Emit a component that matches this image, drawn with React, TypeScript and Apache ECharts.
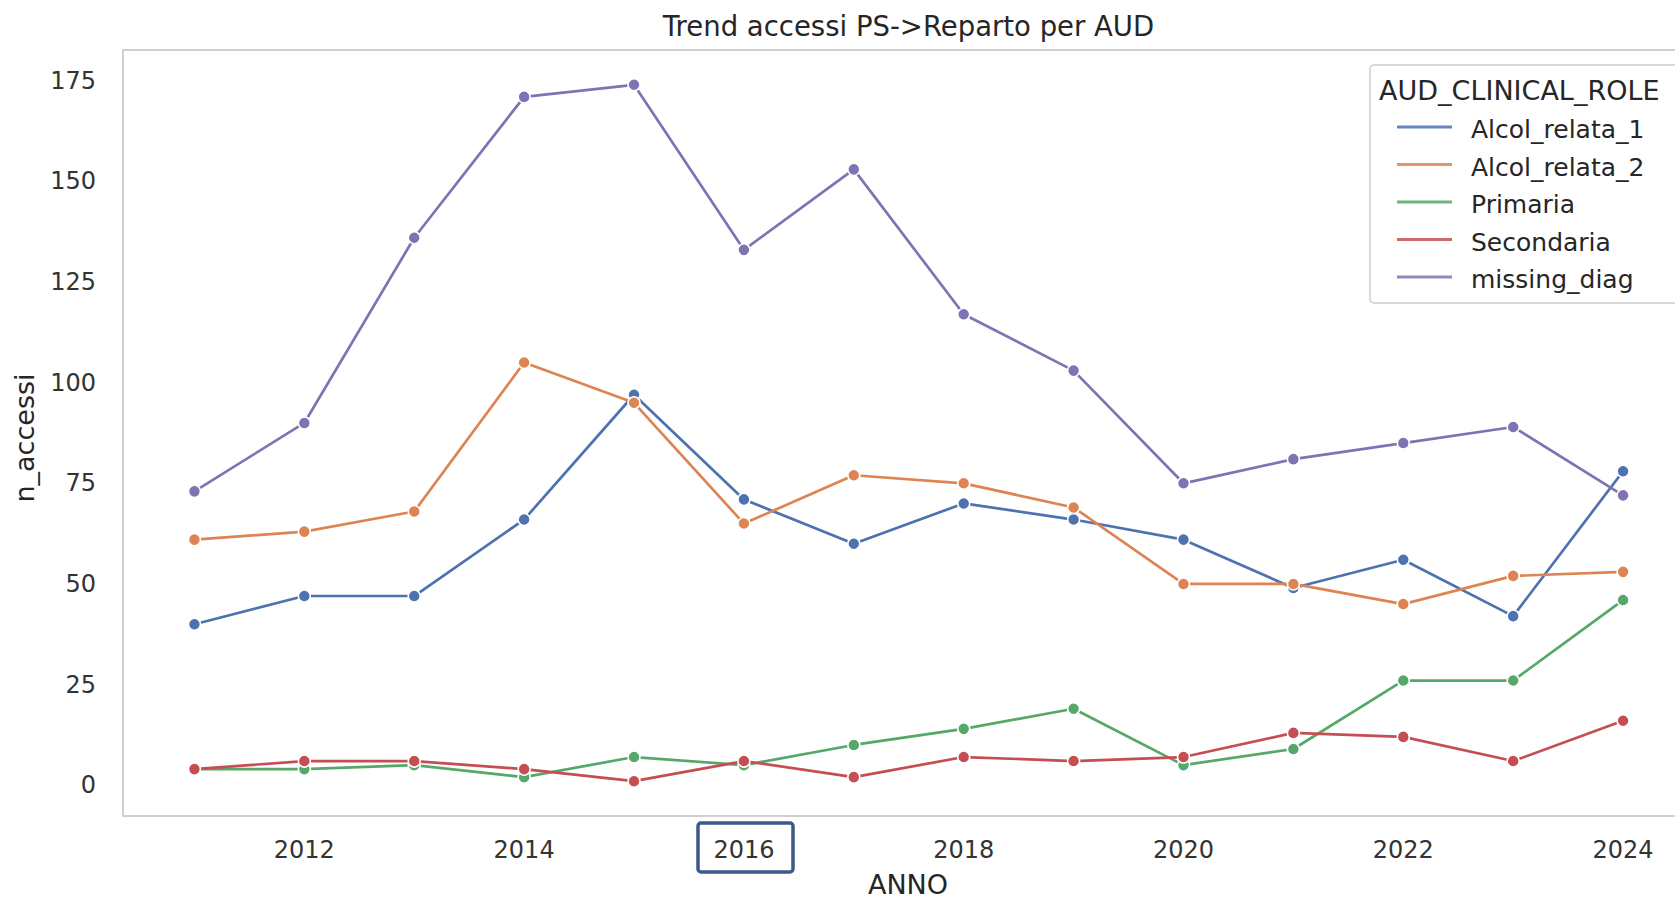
import React, { useEffect, useRef } from "react";
import * as echarts from "echarts";

const years = [2011, 2012, 2013, 2014, 2015, 2016, 2017, 2018, 2019, 2020, 2021, 2022, 2023, 2024];
const seriesNames = ["Alcol_relata_1", "Alcol_relata_2", "Primaria", "Secondaria", "missing_diag"];
const alcolRelata1 = [40, 47, 47, 66, 97, 71, 60, 70, 66, 61, 49, 56, 42, 78];
const alcolRelata2 = [61, 63, 68, 105, 95, 65, 77, 75, 69, 50, 50, 45, 52, 53];
const primaria = [4, 4, 5, 2, 7, 5, 10, 14, 19, 5, 9, 26, 26, 46];
const secondaria = [4, 6, 6, 4, 1, 6, 2, 7, 6, 7, 13, 12, 6, 16];
const missingDiag = [73, 90, 136, 171, 174, 133, 153, 117, 103, 75, 81, 85, 89, 72];
const xTicks = [2012, 2014, 2016, 2018, 2020, 2022, 2024];
const yTicks = [0, 25, 50, 75, 100, 125, 150, 175];
const colors = ["#4C72B0", "#DD8452", "#55A868", "#C44E52", "#8172B3"];
const title = "Trend accessi PS->Reparto per AUD";
const xName = "ANNO";
const yName = "n_accessi";
const legendTitle = "AUD_CLINICAL_ROLE";

const allValues = [alcolRelata1, alcolRelata2, primaria, secondaria, missingDiag];

const FONT = "DejaVu Sans";

export default function App() {
  const ref = useRef<HTMLDivElement>(null);
  useEffect(() => {
    if (!ref.current) return;
    const chart = echarts.init(ref.current, null, { renderer: "svg" });
    const flat = allValues.flat();
    const dMin = Math.min(...flat);
    const dMax = Math.max(...flat);
    const yPad = (dMax - dMin) * 0.05;
    const xPad = (years[years.length - 1] - years[0]) * 0.05;

    const legendX = 1370;
    const legendY = 65;
    const entryStart = 127;
    const entryStep = 37.5;

    const legendGraphics: any[] = [
      {
        type: "rect",
        shape: { x: legendX, y: legendY, width: 360, height: 238, r: 4 },
        style: { fill: "rgba(255,255,255,0.85)", stroke: "#cccccc", lineWidth: 1.5 },
        z: 100,
      },
      {
        type: "text",
        x: 1379,
        y: 90,
        style: {
          text: legendTitle,
          font: `27px "${FONT}"`,
          fill: "#262626",
          textAlign: "left",
          textVerticalAlign: "middle",
        },
        z: 101,
      },
    ];
    seriesNames.forEach((n, i) => {
      const y = entryStart + i * entryStep;
      legendGraphics.push({
        type: "line",
        shape: { x1: 1397, y1: y, x2: 1452, y2: y },
        style: { stroke: colors[i], lineWidth: 3, opacity: 0.85 },
        z: 101,
      });
      legendGraphics.push({
        type: "text",
        x: 1471,
        y: y + 2.5,
        style: {
          text: n,
          font: `25px "${FONT}"`,
          fill: "#262626",
          textAlign: "left",
          textVerticalAlign: "middle",
        },
        z: 101,
      });
    });

    const option: any = {
      animation: false,
      backgroundColor: "#ffffff",
      textStyle: { fontFamily: FONT },
      grid: {
        left: 123,
        top: 50,
        right: 5.5,
        bottom: 82,
        show: true,
        borderColor: "#d0d0d0",
        borderWidth: 2,
        backgroundColor: "transparent",
      },
      xAxis: {
        type: "value",
        min: years[0] - xPad,
        max: years[years.length - 1] + xPad,
        axisLine: { show: false },
        axisTick: { show: false },
        splitLine: { show: false },
        axisLabel: {
          customValues: xTicks,
          color: "#333333",
          fontSize: 24,
          fontFamily: FONT,
          margin: 22,
          lineHeight: 24,
          formatter: (v: number) => String(v),
        },
      },
      yAxis: {
        type: "value",
        min: dMin - yPad,
        max: dMax + yPad,
        axisLine: { show: false },
        axisTick: { show: false },
        splitLine: { show: false },
        axisLabel: {
          customValues: yTicks,
          color: "#333333",
          fontSize: 24,
          fontFamily: FONT,
          margin: 27,
          formatter: (v: number) => String(v),
        },
      },
      series: seriesNames.map((name, i) => ({
        name,
        type: "line",
        data: years.map((y, j) => [y, allValues[i][j]]),
        symbol: "circle",
        symbolSize: 12,
        showSymbol: true,
        lineStyle: { color: colors[i], width: 2.7 },
        itemStyle: { color: colors[i], borderColor: "#ffffff", borderWidth: 1.5 },
        z: 2 + i,
      })),
      graphic: [
        {
          type: "text",
          x: 908.5,
          y: 25.5,
          style: {
            text: title,
            font: `27.5px "${FONT}"`,
            fill: "#262626",
            textAlign: "center",
            textVerticalAlign: "middle",
          },
        },
        {
          type: "text",
          x: 908,
          y: 884,
          style: {
            text: xName,
            font: `27px "${FONT}"`,
            fill: "#262626",
            textAlign: "center",
            textVerticalAlign: "middle",
          },
        },
        {
          type: "text",
          x: 24,
          y: 438,
          rotation: Math.PI / 2,
          style: {
            text: yName,
            font: `27px "${FONT}"`,
            fill: "#262626",
            textAlign: "center",
            textVerticalAlign: "middle",
          },
        },
        {
          type: "rect",
          shape: { x: 698, y: 823, width: 95, height: 49, r: 3 },
          style: { fill: "none", stroke: "#3b5a8a", lineWidth: 3.5 },
          z: 50,
        },
        ...legendGraphics,
      ],
    };
    chart.setOption(option);
    return () => chart.dispose();
  }, []);
  return (
    <div
      ref={ref}
      style={{ position: "fixed", left: 0, top: 0, width: 1700, height: 898 }}
    />
  );
}
